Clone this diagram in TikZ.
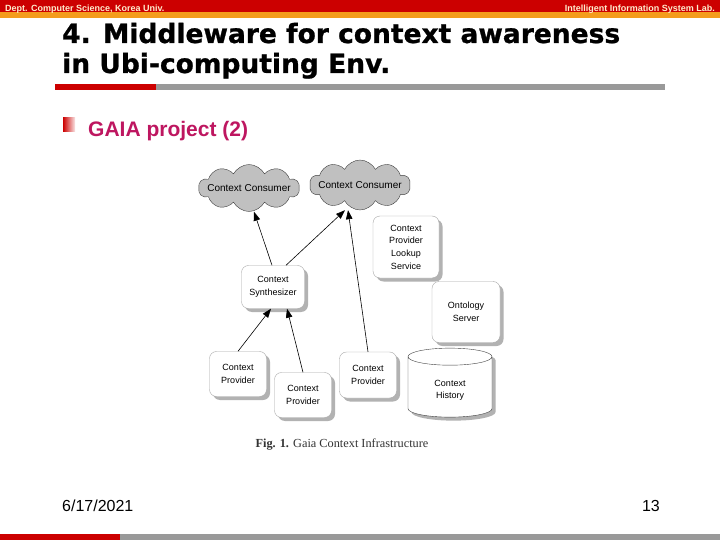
\documentclass[tikz,border=0pt]{standalone}
\usepackage{fontspec}
\setmainfont{Liberation Sans}
\newfontfamily\titlefont{DejaVu Sans}[BoldFeatures={FakeBold=0.9}]
\newfontfamily\capfont{Liberation Serif}
\usetikzlibrary{shapes,shapes.geometric,shapes.symbols,arrows.meta,shadows,positioning}

\definecolor{barred}{RGB}{204,0,0}
\definecolor{barorange}{RGB}{244,156,28}
\definecolor{bargray}{RGB}{153,153,153}
\definecolor{gaiapink}{RGB}{190,22,96}
\definecolor{cloudgray}{RGB}{192,192,192}
\definecolor{headtext}{RGB}{255,236,205}

\tikzset{
  box/.style={draw=gray!70, fill=white, rounded corners=7pt, align=center,
    inner sep=0pt, font=\fontsize{9}{12.7}\selectfont,
    drop shadow={shadow xshift=3.5pt, shadow yshift=-3.5pt, fill=gray!60, opacity=1}},
  consumer/.style={cloud, cloud puffs=10, cloud puff arc=125, draw=black!75,
    fill=cloudgray, minimum width=101pt, minimum height=47pt, inner sep=0pt,
    font=\fontsize{9}{11}\selectfont},
  arr/.style={-{Triangle[length=9pt,width=6.5pt]}, line width=0.6pt, black}
}

\begin{document}
\begin{tikzpicture}[x=1pt,y=-1pt]
  % Page
  \fill[white] (0,0) rectangle (720,540);
  \useasboundingbox (0,0) rectangle (720,540);

  % Header bars
  \fill[barred] (0,0) rectangle (720,12);
  \fill[barorange] (0,12) rectangle (720,18);
  \node[anchor=base west, text=headtext, font=\bfseries\fontsize{9}{10}\selectfont, inner sep=0pt] (dept) at (5,12) {Dept. Computer Science, Korea Univ.};
  \node[anchor=base east, text=headtext, font=\bfseries\fontsize{9}{10}\selectfont, inner sep=0pt] (lab) at (715,12) {Intelligent Information System Lab.};

  % Title
  \node[anchor=base west, font=\titlefont\bfseries\fontsize{26.5}{30}\selectfont, inner sep=0pt] (title1) at (62,43) {4. Middleware for context awareness};
  \node[anchor=base west, font=\titlefont\bfseries\fontsize{26.5}{30}\selectfont, inner sep=0pt] (title2) at (62,73) {in Ubi-computing Env.};
  \fill[barred] (55,84) rectangle (156,90);
  \fill[bargray] (156,84) rectangle (665,90);

  % Bullet
  \shade[left color=barred, right color=barred!10] (63,118) rectangle (75,132);
  \node[anchor=base west, text=gaiapink, font=\bfseries\fontsize{21}{24}\selectfont, inner sep=0pt] (gaia) at (88,137) {GAIA project (2)};

  % Consumers
  \node[consumer, label=center:{Context Consumer}] (cons1) at (249,188) {};
  \node[consumer, minimum height=50pt, label=center:{Context Consumer}] (cons2) at (360,185) {};

  % Boxes
  \node[box, minimum width=66pt, minimum height=62pt] (lookup) at (406,247) {Context\\Provider\\Lookup\\Service};
  \node[box, minimum width=63pt, minimum height=43pt] (synth) at (273,287) {Context\\Synthesizer};
  \node[box, minimum width=68pt, minimum height=61pt] (onto) at (466,312) {Ontology\\Server};
  \node[box, minimum width=57pt, minimum height=45pt] (prov1) at (238,374) {Context\\Provider};
  \node[box, minimum width=57pt, minimum height=45pt] (prov2) at (303,395) {Context\\Provider};
  \node[box, minimum width=57pt, minimum height=46pt] (prov3) at (368,375) {Context\\Provider};
  \node[cylinder, shape border rotate=90, aspect=0.55, draw=black!75, fill=white,
    minimum width=84pt, minimum height=69pt, inner sep=0pt, align=center,
    font=\fontsize{9}{12.7}\selectfont,
    drop shadow={shadow xshift=3.5pt, shadow yshift=-3.5pt, fill=gray!60, opacity=1}] (hist) at (450,387) {\\Context\\History};

  % Arrows
  \draw[arr] ([xshift=-1pt]synth.north) -- ([xshift=5pt]cons1.south);
  \draw[arr] ([xshift=13pt]synth.north) -- ([xshift=-15pt]cons2.south);
  \draw[arr] (prov3.north) -- ([xshift=-12pt]cons2.south);
  \draw[arr] (prov1.north) -- ([xshift=-2pt]synth.south);
  \draw[arr] (prov2.north) -- ([xshift=14pt]synth.south);

  % Caption
  \node[font=\capfont\fontsize{12.3}{14}\selectfont, text=black!80] (caption) at (342,445) {\textbf{Fig. 1.} Gaia Context Infrastructure};

  % Footer
  \node[anchor=base west, font=\fontsize{16}{18}\selectfont, inner sep=0pt] (date) at (62,511) {6/17/2021};
  \node[anchor=base east, font=\fontsize{16}{18}\selectfont, inner sep=0pt] (page) at (660,511) {13};
  \fill[barred] (0,534) rectangle (120,540);
  \fill[bargray] (120,534) rectangle (720,540);
\end{tikzpicture}
\end{document}
